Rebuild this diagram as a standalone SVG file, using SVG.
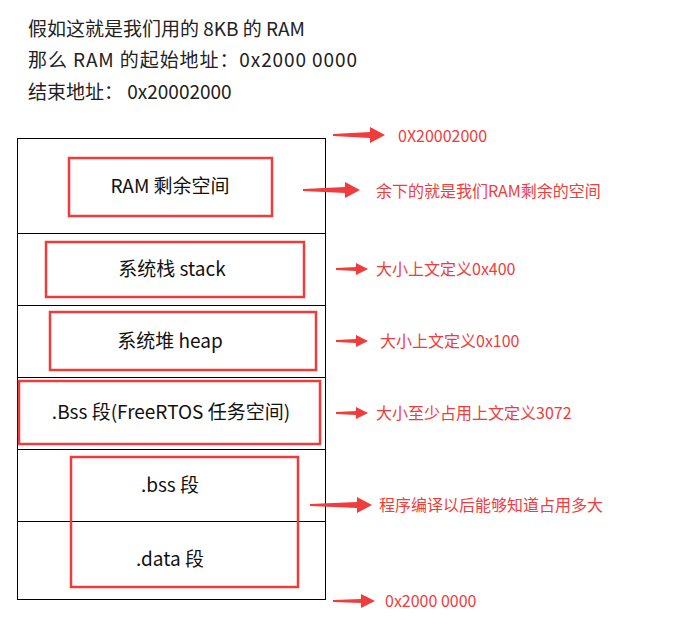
<svg xmlns="http://www.w3.org/2000/svg" width="699" height="631" viewBox="0 0 699 631">
<style>
text{font-family:"Noto Sans CJK SC","Noto Sans",sans-serif}
.h{font-size:19px;fill:#222}
.c{font-size:19px;fill:#111;text-anchor:middle}
.r{font-size:16px;fill:#f03c3c}
.rb{fill:none;stroke:#ee3b3b;stroke-width:2.5}
.ln{fill:none;stroke:#000;stroke-width:1}
.ar{fill:#f03c3c}
</style>
<rect width="699" height="631" fill="#fff"/>
<g id="header">
<text class="h" x="28" y="36">假如这就是我们用的 8KB 的 RAM</text>
<text class="h" x="28" y="67" textLength="329">那么 RAM 的起始地址：0x2000 0000</text>
<text class="h" x="28" y="99">结束地址：   0x20002000</text>
</g>
<g id="memory">
<rect class="ln" x="17.5" y="138.5" width="308" height="461"/>
<path class="ln" d="M17 233.5H325M17 305.5H325M17 377.5H325M17 449.5H325M17 521.5H325"/>
</g>
<g id="n1"><rect class="rb" x="69" y="158" width="203" height="58"/><text class="c" x="170" y="193">RAM 剩余空间</text></g>
<g id="n2"><rect class="rb" x="46" y="242" width="258" height="55"/><text class="c" x="172" y="276">系统栈 stack</text></g>
<g id="n3"><rect class="rb" x="50" y="312" width="266" height="58"/><text class="c" x="170" y="348">系统堆 heap</text></g>
<g id="n4"><rect class="rb" x="19" y="381" width="301" height="63"/><text class="c" x="171" y="419">.Bss 段(FreeRTOS 任务空间)</text></g>
<g id="n5"><rect class="rb" x="71" y="457" width="227" height="130"/><text class="c" x="170" y="492">.bss  段</text><text class="c" x="170" y="566">.data  段</text></g>
<g id="connectors">
<polygon class="ar" points="333,134 370,132 370,127 385,135 370,143 370,138 333,136"/>
<polygon class="ar" points="303,189 345,187 345,182 360,190 345,198 345,193 303,191"/>
<polygon class="ar" points="336,268 356,267 356,263 368,269 356,275 356,271 336,270"/>
<polygon class="ar" points="336,340 356,339 356,335 368,341 356,347 356,343 336,342"/>
<polygon class="ar" points="336,412 356,411 356,407 368,413 356,419 356,415 336,414"/>
<polygon class="ar" points="310,504 357,502 357,497 372,505 357,513 357,508 310,506"/>
<polygon class="ar" points="333,600 361,599 361,594 375,601 361,608 361,603 333,602"/>
</g>
<g id="labels">
<text class="r" x="398" y="142">0X20002000</text>
<text class="r" x="376" y="197">余下的就是我们RAM剩余的空间</text>
<text class="r" x="376" y="275">大小上文定义0x400</text>
<text class="r" x="380" y="347">大小上文定义0x100</text>
<text class="r" x="376" y="419">大小至少占用上文定义3072</text>
<text class="r" x="379" y="511">程序编译以后能够知道占用多大</text>
<text class="r" x="385" y="607">0x2000 0000</text>
</g>
</svg>
